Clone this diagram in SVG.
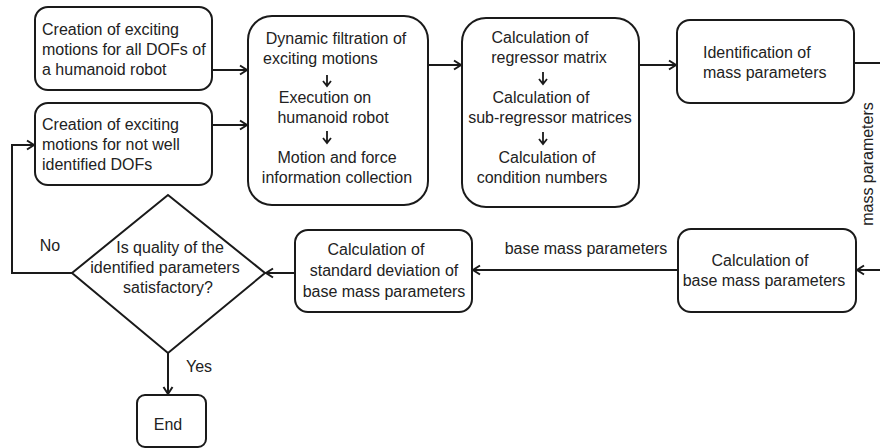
<svg xmlns="http://www.w3.org/2000/svg" width="880" height="448" viewBox="0 0 880 448">
<defs>
<style>
.box{fill:#fff;stroke:#1a1a1a;stroke-width:2}
.t{font-family:"Liberation Sans",Arial,sans-serif;font-size:16px;fill:#222;text-anchor:middle}
.l{text-anchor:start}
.c{fill:none;stroke:#1a1a1a;stroke-width:2}
.sa{fill:none;stroke:#1a1a1a;stroke-width:1.8}
</style>
<marker id="ah" markerUnits="userSpaceOnUse" markerWidth="12" markerHeight="12" viewBox="0 0 12 12" refX="10" refY="6" orient="auto">
<path d="M3,1.5 L10,6 L3,10.5" fill="none" stroke="#1a1a1a" stroke-width="2"/>
</marker>
</defs>
<rect width="880" height="448" fill="#fff"/>

<g id="connectors">
<path class="c" d="M212,70 H247" marker-end="url(#ah)"/>
<path class="c" d="M212,125 H247" marker-end="url(#ah)"/>
<path class="c" d="M428,65 H461" marker-end="url(#ah)"/>
<path class="c" d="M639,65 H676" marker-end="url(#ah)"/>
<path class="c" d="M854,63 H884 V270 H857" marker-end="url(#ah)"/>
<path class="c" d="M678,270 H473" marker-end="url(#ah)"/>
<path class="c" d="M295,273 H266" marker-end="url(#ah)"/>
<path class="c" d="M72,273 H12 V145 H34" marker-end="url(#ah)"/>
<path class="c" d="M168,353 V394" marker-end="url(#ah)"/>
<text class="t" transform="rotate(-90 873 164)" x="873" y="164">mass parameters</text>
<text class="t" x="586" y="254">base mass parameters</text>
<text class="t" x="50" y="251">No</text>
<text class="t" x="199" y="372">Yes</text>
</g>

<g id="n1">
<rect class="box" x="35" y="7" width="177" height="83" rx="13"/>
<text class="t l" x="42" y="35">Creation of exciting</text>
<text class="t l" x="42" y="55">motions for all DOFs of</text>
<text class="t l" x="42" y="75">a humanoid robot</text>
</g>

<g id="n2">
<rect class="box" x="35" y="103" width="177" height="82" rx="13"/>
<text class="t l" x="42" y="130">Creation of exciting</text>
<text class="t l" x="42" y="150">motions for not well</text>
<text class="t l" x="42" y="170">identified DOFs</text>
</g>

<g id="n3">
<rect class="box" x="248" y="16" width="180" height="189" rx="24"/>
<text class="t" x="336" y="44">Dynamic filtration of</text>
<text class="t l" x="263" y="63.5">exciting motions</text>
<path class="sa" d="M327,75 V86 M323,81 L327,86 L331,81"/>
<text class="t" x="325" y="103">Execution on</text>
<text class="t" x="333" y="123">humanoid robot</text>
<path class="sa" d="M327,131 V143 M323,138 L327,143 L331,138"/>
<text class="t" x="337" y="163">Motion and force</text>
<text class="t" x="337" y="183">information collection</text>
</g>

<g id="n4">
<rect class="box" x="462" y="18" width="177" height="189" rx="24"/>
<text class="t" x="540" y="43">Calculation of</text>
<text class="t" x="549" y="63">regressor matrix</text>
<path class="sa" d="M543,72 V84 M539,79 L543,84 L547,79"/>
<text class="t" x="541" y="103">Calculation of</text>
<text class="t" x="550" y="123">sub-regressor matrices</text>
<path class="sa" d="M543,132 V144 M539,139 L543,144 L547,139"/>
<text class="t" x="547" y="163">Calculation of</text>
<text class="t" x="542" y="183">condition numbers</text>
</g>

<g id="n5">
<rect class="box" x="677" y="20" width="177" height="83" rx="13"/>
<text class="t l" x="703" y="58">Identification of</text>
<text class="t l" x="703" y="78">mass parameters</text>
</g>

<g id="n6">
<rect class="box" x="678" y="229" width="178" height="83" rx="13"/>
<text class="t" x="760" y="266">Calculation of</text>
<text class="t" x="764" y="286">base mass parameters</text>
</g>

<g id="n7">
<rect class="box" x="295" y="230" width="177" height="82" rx="13"/>
<text class="t" x="376" y="255">Calculation of</text>
<text class="t" x="384" y="276">standard deviation of</text>
<text class="t" x="384" y="297">base mass parameters</text>
</g>

<g id="n8">
<polygon class="box" points="168,195 265,273 168,353 72,273"/>
<text class="t" x="170" y="253">Is quality of the</text>
<text class="t" x="165" y="273">identified parameters</text>
<text class="t" x="168" y="293">satisfactory?</text>
</g>

<g id="n9">
<rect class="box" x="137" y="395" width="69" height="52" rx="8"/>
<text class="t" x="168" y="430">End</text>
</g>
</svg>
